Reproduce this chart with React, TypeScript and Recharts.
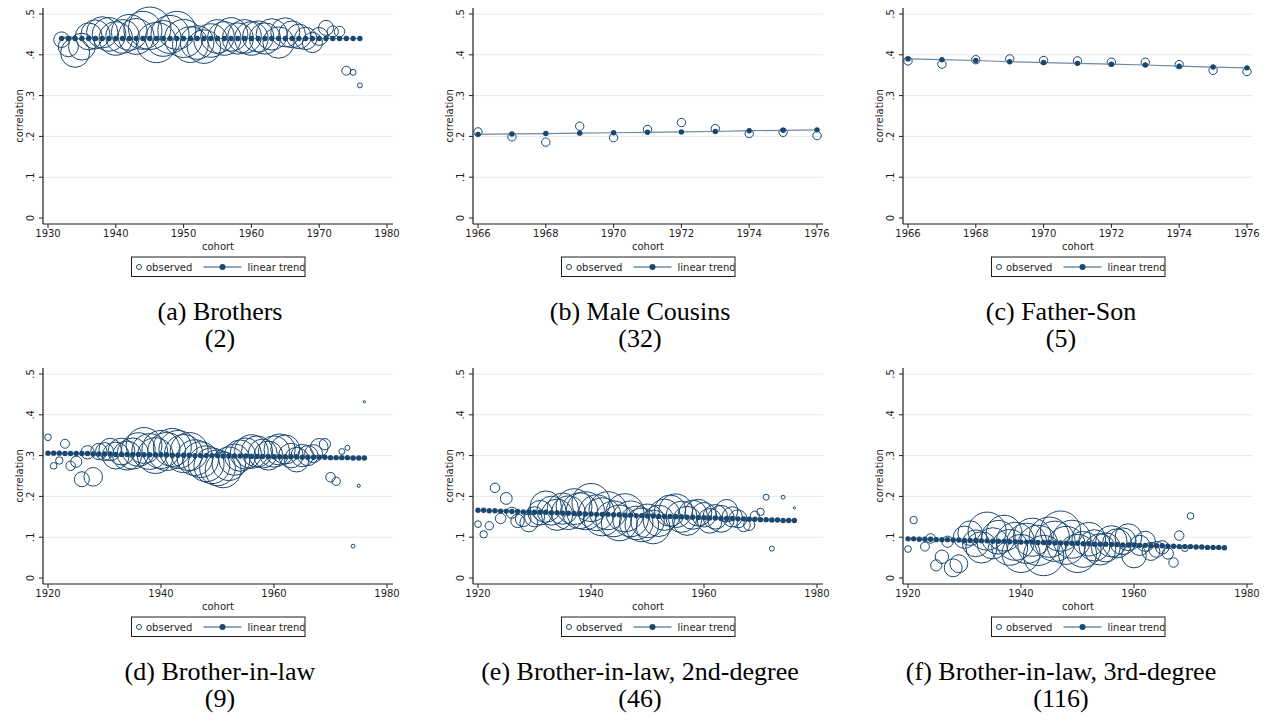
import React from 'react';
import { ScatterChart, Scatter, XAxis, YAxis, ZAxis, ReferenceLine } from 'recharts';

const NAVY = '#1a476f';
const TREND_LINE = '#6f89a3';
const GRID = '#e3ebee';
const INK = '#1e1e1e';
const SANS = 'DejaVu Sans, sans-serif';

const yTicks = [0, 0.1, 0.2, 0.3, 0.4, 0.5];
const gridTicks = [0.1, 0.2, 0.3, 0.4, 0.5];
const ticksA = [1930, 1940, 1950, 1960, 1970, 1980];
const ticksShort = [1966, 1968, 1970, 1972, 1974, 1976];
const ticksLong = [1920, 1940, 1960, 1980];

const yearsA = [
  1932, 1933, 1934, 1935, 1936, 1937, 1938, 1939, 1940, 1941,
  1942, 1943, 1944, 1945, 1946, 1947, 1948, 1949, 1950, 1951,
  1952, 1953, 1954, 1955, 1956, 1957, 1958, 1959, 1960, 1961,
  1962, 1963, 1964, 1965, 1966, 1967, 1968, 1969, 1970, 1971,
  1972, 1973, 1974, 1975, 1976,
];
const yearsShort = [1966, 1967, 1968, 1969, 1970, 1971, 1972, 1973, 1974, 1975, 1976];
const yearsLong = [
  1920, 1921, 1922, 1923, 1924, 1925, 1926, 1927, 1928, 1929,
  1930, 1931, 1932, 1933, 1934, 1935, 1936, 1937, 1938, 1939,
  1940, 1941, 1942, 1943, 1944, 1945, 1946, 1947, 1948, 1949,
  1950, 1951, 1952, 1953, 1954, 1955, 1956, 1957, 1958, 1959,
  1960, 1961, 1962, 1963, 1964, 1965, 1966, 1967, 1968, 1969,
  1970, 1971, 1972, 1973, 1974, 1975, 1976,
];
const yearsE = [
  1920, 1921, 1922, 1923, 1924, 1925, 1926, 1927, 1928, 1929,
  1930, 1931, 1932, 1933, 1934, 1935, 1936, 1937, 1938, 1939,
  1940, 1941, 1942, 1943, 1944, 1945, 1946, 1947, 1948, 1949,
  1950, 1951, 1952, 1953, 1954, 1955, 1956, 1957, 1958, 1959,
  1960, 1961, 1962, 1963, 1964, 1965, 1966, 1967, 1968, 1969,
  1970, 1971, 1972, 1974, 1976,
];
const yearsF = [
  1920, 1921, 1923, 1924, 1925, 1926, 1927, 1928, 1929,
  1930, 1931, 1932, 1933, 1934, 1935, 1936, 1937, 1938, 1939,
  1940, 1941, 1942, 1943, 1944, 1945, 1946, 1947, 1948, 1949,
  1950, 1951, 1952, 1953, 1954, 1955, 1956, 1957, 1958, 1959,
  1960, 1961, 1962, 1963, 1964, 1965, 1966, 1967, 1968, 1969,
  1970,
];

// (a) Brothers
const obsA = [
  0.437, 0.420, 0.405, 0.420, 0.445, 0.450, 0.455, 0.450, 0.440, 0.445,
  0.455, 0.445, 0.460, 0.465, 0.430, 0.440, 0.450, 0.460, 0.440, 0.425,
  0.430, 0.420, 0.435, 0.445, 0.440, 0.450, 0.440, 0.445, 0.440, 0.445,
  0.440, 0.450, 0.430, 0.455, 0.450, 0.445, 0.440, 0.430, 0.445, 0.466,
  0.457, 0.457, 0.361, 0.357, 0.325,
];
const weightA = [
  49, 81, 169, 144, 144, 169, 196, 225, 225, 225,
  256, 256, 289, 361, 324, 256, 289, 289, 289, 256,
  225, 225, 225, 225, 225, 225, 196, 225, 225, 196,
  196, 196, 196, 169, 144, 121, 100, 81, 64, 45,
  25, 22, 16, 7, 5,
];
const trendA = [
  0.44, 0.44, 0.44, 0.44, 0.44, 0.44, 0.44, 0.44, 0.44, 0.44,
  0.44, 0.44, 0.44, 0.44, 0.44, 0.44, 0.44, 0.44, 0.44, 0.44,
  0.44, 0.44, 0.44, 0.44, 0.44, 0.44, 0.44, 0.44, 0.44, 0.44,
  0.44, 0.44, 0.44, 0.44, 0.44, 0.44, 0.44, 0.44, 0.44, 0.44,
  0.44, 0.44, 0.44, 0.44, 0.44,
];

// (b) Male Cousins
const obsB = [0.211, 0.199, 0.186, 0.225, 0.197, 0.217, 0.234, 0.219, 0.207, 0.210, 0.202];
const weightB = [14, 14, 14, 14, 14, 14, 14, 14, 14, 14, 14];
const trendB = [0.205, 0.206, 0.207, 0.208, 0.209, 0.210, 0.211, 0.212, 0.214, 0.215, 0.216];

// (c) Father-Son
const obsC = [0.385, 0.377, 0.388, 0.390, 0.386, 0.385, 0.382, 0.382, 0.376, 0.362, 0.359];
const weightC = [14, 14, 14, 14, 14, 14, 14, 14, 14, 14, 14];
const trendC = [0.390, 0.388, 0.386, 0.383, 0.381, 0.379, 0.377, 0.375, 0.372, 0.370, 0.368];

// (d) Brother-in-law
const obsD = [
  0.345, 0.275, 0.288, 0.329, 0.275, 0.285, 0.242, 0.308, 0.248, 0.310,
  0.310, 0.315, 0.300, 0.310, 0.300, 0.305, 0.315, 0.325, 0.310, 0.300,
  0.315, 0.310, 0.320, 0.315, 0.305, 0.310, 0.295, 0.290, 0.280, 0.275,
  0.270, 0.265, 0.280, 0.290, 0.300, 0.305, 0.310, 0.310, 0.305, 0.300,
  0.310, 0.315, 0.315, 0.300, 0.290, 0.300, 0.300, 0.305, 0.320, 0.328,
  0.247, 0.237, 0.310, 0.319, 0.078, 0.226, 0.432,
];
const weightD = [
  9, 9, 11, 16, 18, 25, 45, 36, 69, 53,
  64, 100, 144, 144, 169, 196, 225, 256, 256, 256,
  289, 289, 289, 289, 289, 289, 256, 256, 256, 256,
  256, 256, 225, 196, 196, 196, 225, 196, 169, 169,
  196, 196, 169, 121, 121, 100, 81, 64, 64, 25,
  18, 14, 7, 5, 3, 2, 1,
];
const trendD = [
  0.306, 0.306, 0.306, 0.305, 0.305, 0.305, 0.305, 0.305, 0.304, 0.304,
  0.304, 0.304, 0.303, 0.303, 0.303, 0.303, 0.303, 0.302, 0.302, 0.302,
  0.302, 0.302, 0.301, 0.301, 0.301, 0.301, 0.300, 0.300, 0.300, 0.300,
  0.300, 0.299, 0.299, 0.299, 0.299, 0.299, 0.298, 0.298, 0.298, 0.298,
  0.297, 0.297, 0.297, 0.297, 0.297, 0.296, 0.296, 0.296, 0.296, 0.296,
  0.295, 0.295, 0.295, 0.295, 0.294, 0.294, 0.294,
];

// (e) Brother-in-law, 2nd-degree
const obsE = [
  0.132, 0.107, 0.128, 0.221, 0.146, 0.195, 0.160, 0.140, 0.145, 0.135,
  0.150, 0.160, 0.175, 0.165, 0.155, 0.170, 0.160, 0.175, 0.165, 0.165,
  0.185, 0.160, 0.150, 0.165, 0.145, 0.135, 0.160, 0.145, 0.135, 0.130,
  0.140, 0.125, 0.140, 0.155, 0.165, 0.165, 0.150, 0.140, 0.155, 0.160,
  0.155, 0.140, 0.150, 0.145, 0.165, 0.150, 0.145, 0.130, 0.130, 0.153,
  0.162, 0.198, 0.072, 0.198, 0.172,
];
const weightE = [
  9, 11, 14, 18, 22, 28, 25, 36, 49, 64,
  81, 121, 196, 169, 196, 196, 225, 256, 256, 289,
  289, 256, 289, 289, 256, 256, 289, 256, 225, 225,
  225, 225, 196, 196, 196, 225, 196, 169, 169, 144,
  121, 121, 121, 144, 100, 81, 64, 36, 25, 16,
  11, 7, 5, 3, 1,
];
const trendE = [
  0.166, 0.166, 0.165, 0.165, 0.164, 0.164, 0.163, 0.163, 0.162, 0.162,
  0.161, 0.161, 0.161, 0.160, 0.160, 0.159, 0.159, 0.158, 0.158, 0.157,
  0.157, 0.156, 0.156, 0.156, 0.155, 0.155, 0.154, 0.154, 0.153, 0.153,
  0.152, 0.152, 0.151, 0.151, 0.151, 0.150, 0.150, 0.149, 0.149, 0.148,
  0.148, 0.147, 0.147, 0.146, 0.146, 0.146, 0.145, 0.145, 0.144, 0.144,
  0.143, 0.143, 0.142, 0.142, 0.141, 0.141, 0.141,
];

// (f) Brother-in-law, 3rd-degree
const obsF = [
  0.071, 0.142,
  0.077, 0.097, 0.031, 0.052, 0.089, 0.025, 0.035,
  0.100, 0.110, 0.085, 0.075, 0.115, 0.085, 0.100, 0.110, 0.075, 0.090,
  0.060, 0.085, 0.100, 0.080, 0.055, 0.100, 0.090, 0.115, 0.080, 0.095,
  0.060, 0.070, 0.095, 0.080, 0.070, 0.075, 0.090, 0.085, 0.090, 0.100,
  0.055, 0.080, 0.090, 0.065, 0.070, 0.075, 0.060, 0.038, 0.104, 0.073,
  0.152,
];
const weightF = [
  9, 11,
  16, 18, 25, 36, 25, 64, 64,
  100, 121, 144, 196, 289, 196, 225, 256, 256, 289,
  289, 324, 289, 324, 324, 324, 324, 324, 289, 289,
  289, 256, 225, 196, 196, 169, 196, 169, 144, 144,
  121, 81, 81, 64, 49, 36, 25, 18, 18, 9,
  9,
];
const trendF = [
  0.096, 0.096, 0.095, 0.095, 0.095, 0.094, 0.094, 0.094, 0.093, 0.093,
  0.092, 0.092, 0.092, 0.091, 0.091, 0.090, 0.090, 0.090, 0.089, 0.089,
  0.088, 0.088, 0.088, 0.087, 0.087, 0.087, 0.086, 0.086, 0.085, 0.085,
  0.085, 0.084, 0.084, 0.083, 0.083, 0.083, 0.082, 0.082, 0.081, 0.081,
  0.081, 0.080, 0.080, 0.079, 0.079, 0.079, 0.078, 0.078, 0.077, 0.077,
  0.077, 0.076, 0.076, 0.075, 0.075, 0.075, 0.074,
];

const captions = [
  ['(a) Brothers', '(2)'],
  ['(b) Male Cousins', '(32)'],
  ['(c) Father-Son', '(5)'],
  ['(d) Brother-in-law', '(9)'],
  ['(e) Brother-in-law, 2nd-degree', '(46)'],
  ['(f) Brother-in-law, 3rd-degree', '(116)'],
];

const panels = [
  { obsYears: yearsA, obs: obsA, weight: weightA, trendYears: yearsA, trend: trendA, domain: [1930, 1980], xTicks: ticksA },
  { obsYears: yearsShort, obs: obsB, weight: weightB, trendYears: yearsShort, trend: trendB, domain: [1966, 1976], xTicks: ticksShort },
  { obsYears: yearsShort, obs: obsC, weight: weightC, trendYears: yearsShort, trend: trendC, domain: [1966, 1976], xTicks: ticksShort },
  { obsYears: yearsLong, obs: obsD, weight: weightD, trendYears: yearsLong, trend: trendD, domain: [1920, 1980], xTicks: ticksLong },
  { obsYears: yearsE, obs: obsE, weight: weightE, trendYears: yearsLong, trend: trendE, domain: [1920, 1980], xTicks: ticksLong },
  { obsYears: yearsF, obs: obsF, weight: weightF, trendYears: yearsLong, trend: trendF, domain: [1920, 1980], xTicks: ticksLong },
];

const fmtY = (v: number) => (v === 0 ? '0' : '.' + Math.round(v * 10));

const Bubble = (props: any) => {
  const { cx, cy, width } = props;
  if (cx == null || cy == null || !(width > 0)) return null;
  return <circle cx={cx} cy={cy} r={width / 2} fill="none" stroke={NAVY} strokeWidth={1} />;
};

const TrendDot = (props: any) => {
  const { cx, cy } = props;
  if (cx == null || cy == null) return null;
  return <circle cx={cx} cy={cy} r={2.7} fill={NAVY} stroke="none" />;
};

const YTick = (props: any) => {
  const { x, y, payload } = props;
  return (
    <text x={x} y={y} transform={`rotate(-90 ${x} ${y})`} textAnchor="middle"
      fontSize={10} fontFamily={SANS} fill={INK}>
      {fmtY(payload.value)}
    </text>
  );
};

function Panel({ p }: { p: any }) {
  const obsData = p.obsYears.map((x: number, i: number) => ({ x, y: p.obs[i], w: p.weight[i] }));
  const trendData = p.trendYears.map((x: number, i: number) => ({ x, y: p.trend[i] }));
  return (
    <ScatterChart width={410} height={290} margin={{ top: 8, right: 17, bottom: 38, left: 0 }}>
      {gridTicks.map((t) => (
        <ReferenceLine key={t} y={t} stroke={GRID} strokeWidth={1} />
      ))}
      <XAxis type="number" dataKey="x" domain={p.domain} ticks={p.xTicks} interval={0}
        padding={{ left: 5, right: 6 }} height={28} tickSize={4} tickMargin={2}
        axisLine={{ stroke: INK, strokeWidth: 1.2 }} tickLine={{ stroke: INK }}
        tick={{ fontSize: 10, fill: INK, fontFamily: SANS }} />
      <YAxis type="number" dataKey="y" domain={[0, 0.5]} ticks={yTicks} interval={0}
        width={43} padding={{ top: 6, bottom: 6 }} tickSize={4} tickMargin={5}
        axisLine={{ stroke: INK, strokeWidth: 1.2 }} tickLine={{ stroke: INK }}
        tick={(tp: any) => <YTick {...tp} />} />
      <ZAxis type="number" dataKey="w" domain={[0, 400]} range={[0, 500 * Math.PI]} />
      <Scatter name="observed" data={obsData} shape={(sp: any) => <Bubble {...sp} />} isAnimationActive={false} />
      <Scatter name="linear trend" data={trendData} shape={(sp: any) => <TrendDot {...sp} />}
        line={{ stroke: TREND_LINE, strokeWidth: 1.2 }} isAnimationActive={false} />
    </ScatterChart>
  );
}

function Overlay() {
  return (
    <svg width={1271} height={722} style={{ position: 'absolute', left: 0, top: 0, pointerEvents: 'none' }}>
      <defs>
        <clipPath id="legclip">
          <rect x={0} y={0} width={173} height={22} />
        </clipPath>
      </defs>
      {panels.map((_, i) => {
        const ox = (i % 3) * 430;
        const oy = Math.floor(i / 3) * 360;
        return (
          <g key={i} fontFamily={SANS} fontSize={10} fill={INK}>
            <text x={ox + 19} y={oy + 116} transform={`rotate(-90 ${ox + 19} ${oy + 116})`}
              textAnchor="middle" dominantBaseline="central">correlation</text>
            <text x={ox + 218} y={oy + 250} textAnchor="middle">cohort</text>
            <g transform={`translate(${ox + 131.5} ${oy + 257})`}>
              <g clipPath="url(#legclip)">
                <circle cx={7.5} cy={10} r={2.5} fill="none" stroke={NAVY} strokeWidth={1} />
                <text x={14.5} y={13.5}>observed</text>
                <line x1={72} y1={10} x2={110} y2={10} stroke={TREND_LINE} strokeWidth={1.5} />
                <circle cx={91} cy={10} r={3} fill={NAVY} />
                <text x={116} y={13.5}>linear trend</text>
              </g>
              <rect x={0} y={0} width={173.5} height={19.5} fill="none" stroke={INK} strokeWidth={1} />
            </g>
          </g>
        );
      })}
      {captions.map(([l1, l2], i) => {
        const cx = [220, 640, 1061][i % 3];
        const oy = Math.floor(i / 3) * 360;
        return (
          <g key={'c' + i} fontFamily="Liberation Serif, serif" fontSize={26} fill="#000" textAnchor="middle">
            <text x={cx} y={oy + 320}>{l1}</text>
            <text x={cx} y={oy + 347}>{l2}</text>
          </g>
        );
      })}
    </svg>
  );
}

export default function App() {
  return (
    <div style={{ position: 'absolute', left: 0, top: 0, width: 1271, height: 722, background: '#fff', overflow: 'hidden' }}>
      {panels.map((p, i) => (
        <div key={i} style={{ position: 'absolute', left: (i % 3) * 430, top: Math.floor(i / 3) * 360 }}>
          <Panel p={p} />
        </div>
      ))}
      <Overlay />
    </div>
  );
}
